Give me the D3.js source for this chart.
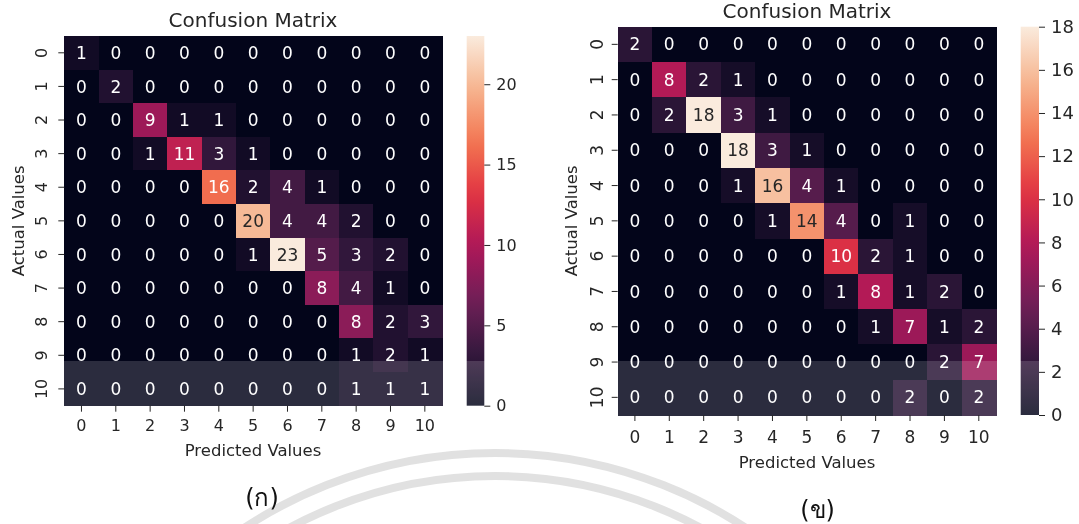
<!DOCTYPE html>
<html>
<head>
<meta charset="utf-8">
<script src="https://cdn.jsdelivr.net/npm/d3@7"></script>
<style>
body { margin: 0; background: #fff; }
svg text { font-family: "DejaVu Sans", "Noto Sans", sans-serif; fill: #262626; }
</style>
</head>
<body>
<svg id="chart" width="1079" height="524"></svg>
<script>
// class labels (same for rows and columns)
var labels = ["0", "1", "2", "3", "4", "5", "6", "7", "8", "9", "10"];

// left matrix (ก)
var matrixA = [
	[1, 0, 0, 0, 0, 0, 0, 0, 0, 0, 0],
	[0, 2, 0, 0, 0, 0, 0, 0, 0, 0, 0],
	[0, 0, 9, 1, 1, 0, 0, 0, 0, 0, 0],
	[0, 0, 1, 11, 3, 1, 0, 0, 0, 0, 0],
	[0, 0, 0, 0, 16, 2, 4, 1, 0, 0, 0],
	[0, 0, 0, 0, 0, 20, 4, 4, 2, 0, 0],
	[0, 0, 0, 0, 0, 1, 23, 5, 3, 2, 0],
	[0, 0, 0, 0, 0, 0, 0, 8, 4, 1, 0],
	[0, 0, 0, 0, 0, 0, 0, 0, 8, 2, 3],
	[0, 0, 0, 0, 0, 0, 0, 0, 1, 2, 1],
	[0, 0, 0, 0, 0, 0, 0, 0, 1, 1, 1]
];

// right matrix (ข)
var matrixB = [
	[2, 0, 0, 0, 0, 0, 0, 0, 0, 0, 0],
	[0, 8, 2, 1, 0, 0, 0, 0, 0, 0, 0],
	[0, 2, 18, 3, 1, 0, 0, 0, 0, 0, 0],
	[0, 0, 0, 18, 3, 1, 0, 0, 0, 0, 0],
	[0, 0, 0, 1, 16, 4, 1, 0, 0, 0, 0],
	[0, 0, 0, 0, 1, 14, 4, 0, 1, 0, 0],
	[0, 0, 0, 0, 0, 0, 10, 2, 1, 0, 0],
	[0, 0, 0, 0, 0, 0, 1, 8, 1, 2, 0],
	[0, 0, 0, 0, 0, 0, 0, 1, 7, 1, 2],
	[0, 0, 0, 0, 0, 0, 0, 0, 0, 2, 7],
	[0, 0, 0, 0, 0, 0, 0, 0, 2, 0, 2]
];

var colorbarTicksA = [0, 5, 10, 15, 20];
var colorbarTicksB = [0, 2, 4, 6, 8, 10, 12, 14, 16, 18];

var titleText = "Confusion Matrix";
var xTitle = "Predicted Values";
var yTitle = "Actual Values";
var captionA = "(ก)";
var captionB = "(ข)";

// seaborn "rocket" colormap, equally spaced stops
var rocketStops = ["#03051a", "#35193e", "#701f57", "#ad1759", "#e13342", "#f37651", "#f6b48f", "#faebdd"];
var rocket = d3.piecewise(d3.interpolateRgb, rocketStops);

var svg = d3.select("#chart");
var defs = svg.append("defs");
var gWater = svg.append("g");
var gMarks = svg.append("g");
var gBand = svg.append("g");
var gLabels = svg.append("g");

// watermark arcs
gWater.selectAll("circle").data([457, 434]).join("circle")
	.attr("cx", 495).attr("cy", 910).attr("r", function(d) { return d; })
	.attr("fill", "none").attr("stroke", "#dcdcdc").attr("stroke-width", 8);

// seaborn picks dark or light annotation text from luminance
function relLum(c) {
	var rgb = d3.rgb(c);
	var v = [rgb.r, rgb.g, rgb.b].map(function(x) {
		x = x / 255;
		return x <= 0.03928 ? x / 12.92 : Math.pow((x + 0.055) / 1.055, 2.4);
	});
	return 0.2126 * v[0] + 0.7152 * v[1] + 0.0722 * v[2];
}

function drawPanel(id, data, cbTicks, caption, p) {
	var x = d3.scaleBand().domain(labels).range([p.left, p.right]);
	var y = d3.scaleBand().domain(labels).range([p.top, p.bottom]);
	var vmax = d3.max(data, function(r) { return d3.max(r); });
	var color = d3.scaleSequential(rocket).domain([0, vmax]);

	var cells = [];
	data.forEach(function(row, i) {
		row.forEach(function(v, j) {
			cells.push({ r: labels[i], c: labels[j], v: v });
		});
	});

	gMarks.append("g").attr("shape-rendering", "crispEdges")
		.selectAll("rect").data(cells).join("rect")
		.attr("x", function(d) { return x(d.c); })
		.attr("y", function(d) { return y(d.r); })
		.attr("width", x.bandwidth() + 0.5)
		.attr("height", y.bandwidth() + 0.5)
		.attr("fill", function(d) { return color(d.v); });

	gLabels.append("g").selectAll("text").data(cells).join("text")
		.attr("x", function(d) { return x(d.c) + x.bandwidth() / 2; })
		.attr("y", function(d) { return y(d.r) + y.bandwidth() / 2; })
		.attr("dy", "0.36em")
		.attr("text-anchor", "middle")
		.style("font-size", "17px")
		.style("fill", function(d) { return relLum(color(d.v)) > 0.408 ? "#262626" : "#ffffff"; })
		.text(function(d) { return d.v; });

	// x axis
	var xa = gLabels.append("g")
		.attr("transform", "translate(0," + p.bottom + ")")
		.call(d3.axisBottom(x).tickSize(6));
	xa.select(".domain").remove();
	xa.style("color", "#262626");
	xa.selectAll("text")
		.attr("y", p.xTickY).attr("dy", "0.36em")
		.style("font-size", p.tickFont + "px");

	// y axis, labels turned like seaborn
	var ya = gLabels.append("g")
		.attr("transform", "translate(" + p.left + ",0)")
		.call(d3.axisLeft(y).tickSize(6));
	ya.select(".domain").remove();
	ya.style("color", "#262626");
	ya.selectAll("text")
		.attr("x", 0).attr("dy", "0.36em")
		.attr("text-anchor", "middle")
		.attr("transform", "translate(" + p.yTickX + ",0) rotate(-90)")
		.style("font-size", p.tickFont + "px");

	// colorbar
	var grad = defs.append("linearGradient").attr("id", "grad" + id)
		.attr("x1", 0).attr("y1", 1).attr("x2", 0).attr("y2", 0);
	grad.selectAll("stop").data(d3.range(0, 1.0001, 0.05)).join("stop")
		.attr("offset", function(d) { return d; })
		.attr("stop-color", function(d) { return rocket(d); });
	gMarks.append("rect")
		.attr("x", p.cbLeft).attr("y", p.top)
		.attr("width", p.cbWidth).attr("height", p.bottom - p.top)
		.attr("fill", "url(#grad" + id + ")");

	var cScale = d3.scaleLinear().domain([0, vmax]).range([p.bottom, p.top]);
	var ca = gLabels.append("g")
		.attr("transform", "translate(" + (p.cbLeft + p.cbWidth) + ",0)")
		.call(d3.axisRight(cScale).tickValues(cbTicks).tickSize(6).tickPadding(p.cbPad));
	ca.select(".domain").remove();
	ca.style("color", "#262626");
	ca.selectAll("text").style("font-size", p.cbFont + "px");

	// titles
	gLabels.append("text")
		.attr("x", p.titleX).attr("y", p.titleY).attr("dy", "0.36em")
		.attr("text-anchor", "middle").style("font-size", "20px")
		.text(titleText);
	gLabels.append("text")
		.attr("x", p.titleX).attr("y", p.xLabelY).attr("dy", "0.36em")
		.attr("text-anchor", "middle").style("font-size", "16.5px")
		.text(xTitle);
	gLabels.append("text")
		.attr("transform", "translate(" + p.yLabelX + "," + ((p.top + p.bottom) / 2) + ") rotate(-90)")
		.attr("dy", "0.36em")
		.attr("text-anchor", "middle").style("font-size", "16.5px")
		.text(yTitle);
	gLabels.append("text")
		.attr("x", p.capX).attr("y", p.capY).attr("dy", "0.36em")
		.attr("text-anchor", "middle").style("font-size", "24px")
		.style("fill", "#111")
		.text(caption);
}

drawPanel("A", matrixA, colorbarTicksA, captionA, {
	left: 64.3, right: 442, top: 36, bottom: 405.7,
	cbLeft: 466.7, cbWidth: 17.6, cbPad: 6, cbFont: 16,
	tickFont: 16, xTickY: 19.3, yTickX: -23.3,
	titleX: 253, titleY: 20, xLabelY: 449.7, yLabelX: 18,
	capX: 262, capY: 497
});

drawPanel("B", matrixB, colorbarTicksB, captionB, {
	left: 617.7, right: 996, top: 26.7, bottom: 415,
	cbLeft: 1020.7, cbWidth: 18.3, cbPad: 6, cbFont: 18,
	tickFont: 17, xTickY: 21.7, yTickX: -21,
	titleX: 807, titleY: 10.5, xLabelY: 462, yLabelX: 571,
	capX: 817.6, capY: 509
});

// light watermark band over the lower part
gBand.append("rect")
	.attr("x", 0).attr("y", 361).attr("width", 1045).attr("height", 163)
	.attr("fill", "#282828")
	.style("mix-blend-mode", "screen");
</script>
</body>
</html>
